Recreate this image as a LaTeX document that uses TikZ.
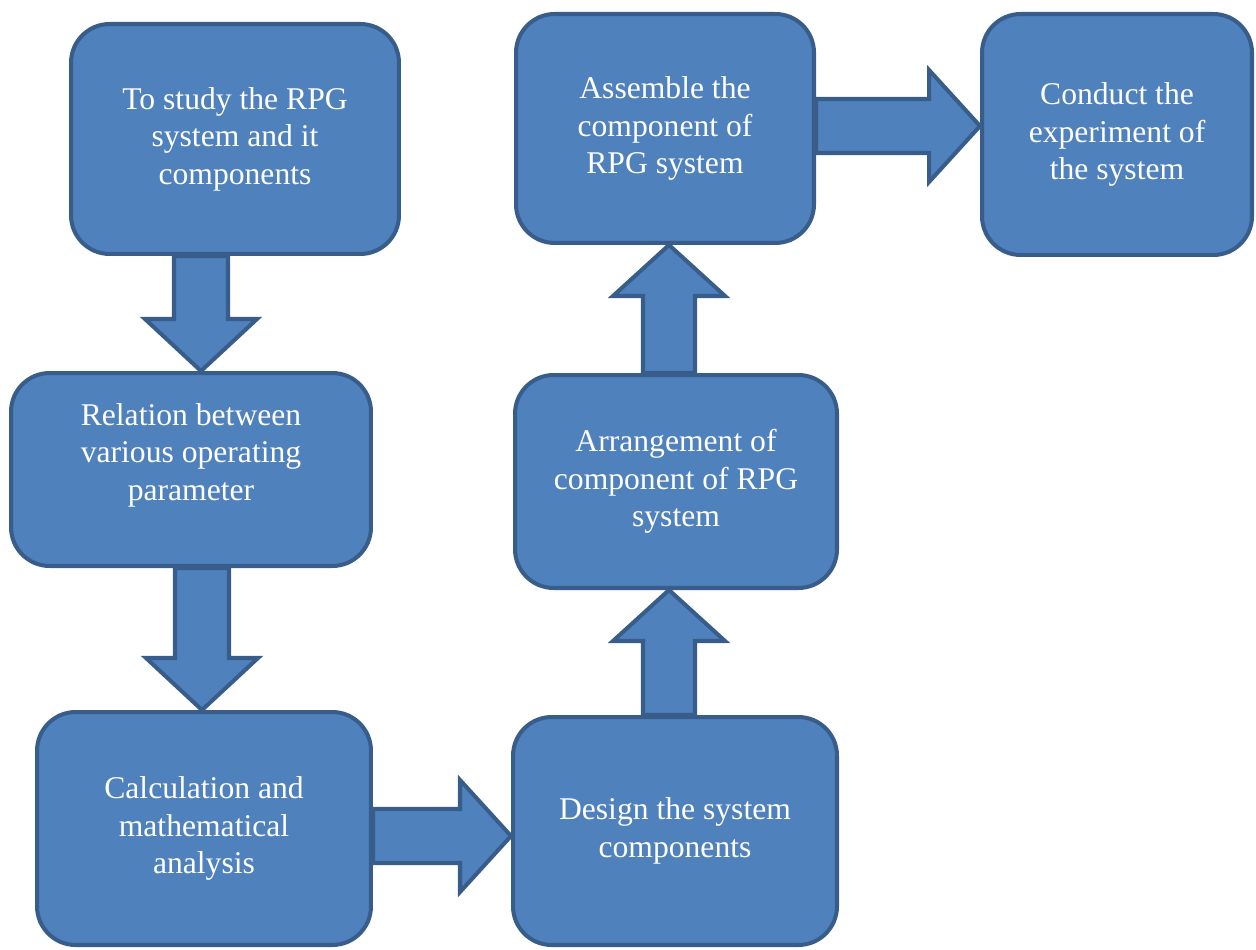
\documentclass[tikz,border=0pt]{standalone}
\usepackage{fontspec}
\setmainfont{Liberation Serif}
\usepackage{tikz}
\usetikzlibrary{calc}
\definecolor{boxfill}{rgb}{0.30980392,0.50588235,0.74117647}
\definecolor{boxline}{rgb}{0.21960784,0.36470588,0.54117647}
% block arrows: #1 from node, #2 to node, #3 centre line (px)
\newcommand{\fatdown}[3]{%
  \filldraw[fatarrow] ($(#1.south -| #3,0)+(-27,0)$) -- ($(#2.north -| #3,0)+(-27,-52)$) -- ($(#2.north -| #3,0)+(-56,-52)$) -- (#2.north -| #3,0) -- ($(#2.north -| #3,0)+(56,-52)$) -- ($(#2.north -| #3,0)+(27,-52)$) -- ($(#1.south -| #3,0)+(27,0)$) -- cycle;}
\newcommand{\fatup}[3]{%
  \filldraw[fatarrow] ($(#1.north -| #3,0)+(-26,0)$) -- ($(#2.south -| #3,0)+(-26,51)$) -- ($(#2.south -| #3,0)+(-56,51)$) -- (#2.south -| #3,0) -- ($(#2.south -| #3,0)+(56,51)$) -- ($(#2.south -| #3,0)+(26,51)$) -- ($(#1.north -| #3,0)+(26,0)$) -- cycle;}
\newcommand{\fatright}[3]{%
  \filldraw[fatarrow] ($(#1.east |- 0,#3)+(0,-27)$) -- ($(#2.west |- 0,#3)+(-51,-27)$) -- ($(#2.west |- 0,#3)+(-51,-56)$) -- (#2.west |- 0,#3) -- ($(#2.west |- 0,#3)+(-51,56)$) -- ($(#2.west |- 0,#3)+(-51,27)$) -- ($(#1.east |- 0,#3)+(0,27)$) -- cycle;}

\begin{document}
\begin{tikzpicture}[x=0.02cm,y=-0.02cm,line join=miter,
    procbox/.style={draw=boxline,fill=boxfill,line width=2.3pt,rounded corners=22pt,
      text=white,align=center,font=\fontsize{18}{21.3}\selectfont},
    fatarrow/.style={draw=boxline,fill=boxfill,line width=2.3pt}]
  \useasboundingbox (0,0) rectangle (1256,949);

  \node[procbox,minimum width=6.56cm,minimum height=4.6cm] (study) at (235,139) {To study the RPG\\system and it\\components};
  \node[procbox,minimum width=7.2cm,minimum height=3.86cm] (relation) at (191,469.5) {\raisebox{8pt}[\height][\depth]{\begin{tabular}{@{}c@{}}Relation between\\various operating\\parameter\end{tabular}}};
  \node[procbox,minimum width=6.68cm,minimum height=4.66cm] (calc) at (204,828.5) {Calculation and\\mathematical\\analysis};
  \node[procbox,minimum width=6.48cm,minimum height=4.56cm] (design) at (675,831) {Design the system\\components};
  \node[procbox,minimum width=6.44cm,minimum height=4.26cm] (arrange) at (676,481.5) {Arrangement of\\component of RPG\\system};
  \node[procbox,minimum width=5.96cm,minimum height=4.58cm] (assemble) at (665,128.5) {Assemble the\\component of\\RPG system};
  \node[procbox,minimum width=5.4cm,minimum height=4.82cm] (conduct) at (1117,134.5) {Conduct the\\experiment of\\the system};

  \fatdown{study}{relation}{201}
  \fatdown{relation}{calc}{202}
  \fatright{calc}{design}{836}
  \fatup{design}{arrange}{669}
  \fatup{arrange}{assemble}{669}
  \fatright{assemble}{conduct}{126}
\end{tikzpicture}
\end{document}
